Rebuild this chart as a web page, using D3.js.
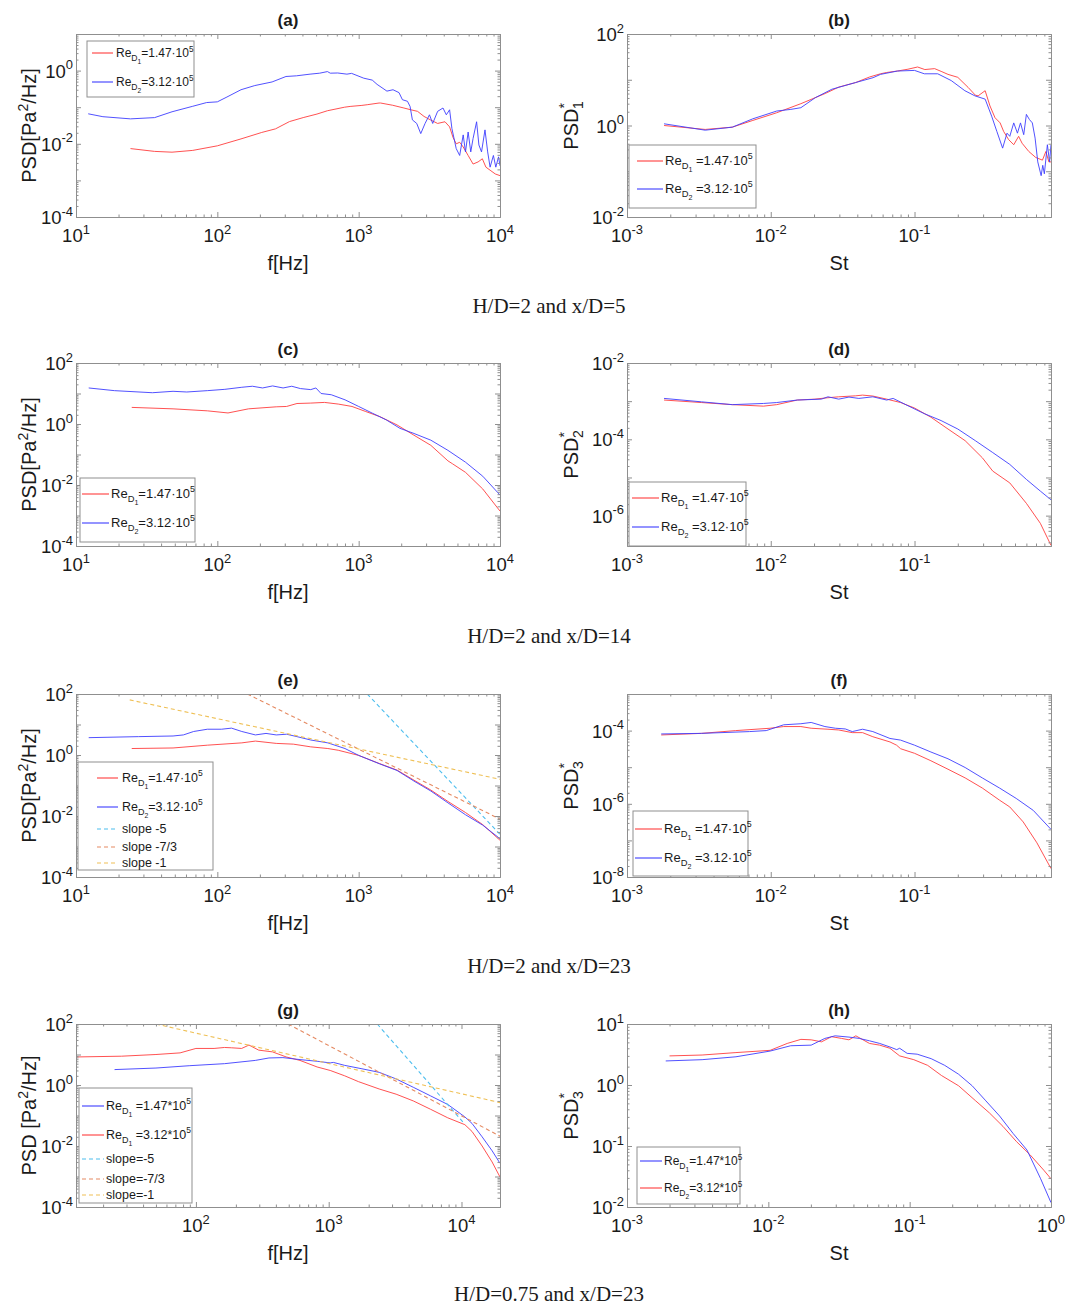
<!DOCTYPE html>
<html>
<head>
<meta charset="utf-8">
<script src="https://cdn.jsdelivr.net/npm/d3@7"></script>
<style>
body { margin: 0; background: #fff; }
svg text { font-family: "Liberation Sans", Arial, Helvetica, sans-serif; fill: #1a1a1a; }
</style>
</head>
<body>
<svg id="fig" width="1067" height="1308"></svg>
<script>
// ---------------- data ----------------
// [frequency Hz or Strouhal, PSD]
var a_red = [[24.3,0.0074],[36,0.0062],[47.8,0.0059],[67,0.0066],[100,0.0088],[147,0.0136],[206,0.0204],[258,0.0256],[324,0.0405],[405,0.052],[507,0.065],[601,0.08],[795,0.1],[870,0.105],[1054,0.112],[1150,0.117],[1394,0.13],[1430,0.13],[1740,0.113],[2090,0.095],[2340,0.085],[2610,0.077],[2900,0.056],[3220,0.045],[3620,0.036],[4080,0.04],[4400,0.029],[4650,0.015],[4900,0.01],[5185,0.011],[5490,0.0082],[5950,0.0048],[6450,0.0028],[7000,0.0032],[7500,0.0039],[7950,0.0023],[8510,0.0019],[9260,0.0015],[10000,0.00135]];
var a_blue = [[12.2,0.066],[15.5,0.055],[24.3,0.048],[36,0.052],[47.8,0.075],[67,0.106],[84,0.134],[100,0.14],[117,0.19],[147,0.30],[184,0.39],[244,0.49],[306,0.69],[363,0.72],[453,0.80],[530,0.85],[601,0.94],[630,0.85],[711,0.86],[826,0.8],[891,0.84],[1087,0.62],[1248,0.55],[1350,0.42],[1585,0.275],[1750,0.3],[1930,0.25],[2040,0.16],[2215,0.145],[2310,0.105],[2400,0.045],[2575,0.036],[2750,0.019],[2950,0.036],[3170,0.062],[3340,0.036],[3620,0.077],[3950,0.095],[4170,0.062],[4400,0.085],[4570,0.026],[4900,0.0074],[5185,0.0048],[5490,0.0175],[5700,0.006],[5950,0.021],[6210,0.006],[6450,0.014],[6830,0.04],[7090,0.0093],[7400,0.006],[7830,0.024],[8180,0.006],[8510,0.0023],[8980,0.0048],[9340,0.0023],[9770,0.0044],[10000,0.0025]];

var b_red = [[0.00181,1.0],[0.0035,0.82],[0.0054,0.92],[0.0075,1.29],[0.011,1.9],[0.0162,3.0],[0.0239,5.0],[0.0297,6.9],[0.039,8.7],[0.0487,11.5],[0.058,13.5],[0.064,14.4],[0.076,15.5],[0.09,17],[0.105,19],[0.118,16.7],[0.138,17.5],[0.155,15],[0.171,13.1],[0.2,11.3],[0.236,6.8],[0.265,4.6],[0.277,4.45],[0.31,5.76],[0.335,2.67],[0.363,1.48],[0.394,1.14],[0.417,0.74],[0.452,0.49],[0.49,0.38],[0.53,0.58],[0.56,0.41],[0.624,0.27],[0.697,0.2],[0.776,0.175],[0.82,0.27],[0.86,0.16],[0.89,0.16]];
var b_blue = [[0.00181,1.09],[0.0035,0.79],[0.0054,0.92],[0.0075,1.4],[0.011,2.07],[0.0138,2.25],[0.0162,2.45],[0.0204,4.05],[0.0266,6.2],[0.039,8.7],[0.0515,11.1],[0.058,13.1],[0.076,15.5],[0.1,16],[0.117,13.5],[0.145,13.5],[0.18,9.6],[0.224,5.76],[0.263,4.45],[0.31,3.77],[0.344,1.6],[0.374,0.74],[0.41,0.32],[0.44,0.68],[0.46,0.58],[0.49,1.14],[0.52,0.68],[0.546,1.14],[0.575,0.63],[0.6,1.75],[0.63,1.35],[0.66,1.14],[0.69,0.53],[0.72,0.16],[0.76,0.08],[0.78,0.135],[0.8,0.088],[0.84,0.38],[0.87,0.16],[0.89,0.38]];

var c_red = [[24.8,3.5],[48.6,3.14],[85,2.7],[119,2.3],[166,3.14],[261,3.66],[309,3.76],[366,4.7],[458,4.85],[573,5.1],[717,4.5],[897,3.76],[1123,2.56],[1410,1.75],[1870,0.93],[2460,0.43],[3240,0.2],[4280,0.062],[4600,0.05],[5700,0.026],[7550,0.0074],[10000,0.0014]];
var c_blue = [[12.3,15.2],[18.7,12.4],[34.7,10.6],[48.6,11.8],[60.8,11.2],[85,12.4],[113,13.7],[149,16],[177,17.3],[209,15.2],[246,17.7],[292,15.2],[336,17.3],[387,14.5],[458,13.4],[498,15.2],[542,10],[640,9.1],[801,6.2],[1000,3.76],[1250,2.26],[1570,1.36],[1960,0.72],[2460,0.49],[3240,0.295],[4280,0.137],[5700,0.056],[7550,0.0194],[10000,0.0047]];

var d_red = [[0.00181,1.07e-3],[0.0033,9.2e-4],[0.0054,8.1e-4],[0.0089,7.4e-4],[0.011,8.1e-4],[0.0153,1.07e-3],[0.0203,1.13e-3],[0.025,1.23e-3],[0.0297,1.3e-3],[0.039,1.38e-3],[0.0435,1.44e-3],[0.0513,1.36e-3],[0.064,1.13e-3],[0.08,9.2e-4],[0.1,6.6e-4],[0.13,3.8e-4],[0.171,1.86e-4],[0.225,9.2e-5],[0.296,3.3e-5],[0.35,1.47e-5],[0.46,7.2e-6],[0.6,2.1e-6],[0.75,6.3e-7],[0.89,1.66e-7]];
var d_blue = [[0.00181,1.18e-3],[0.0033,9.6e-4],[0.0054,8.1e-4],[0.0089,8.7e-4],[0.011,9.2e-4],[0.0153,1.07e-3],[0.0225,1.13e-3],[0.025,1.3e-3],[0.0297,1.13e-3],[0.035,1.28e-3],[0.041,1.18e-3],[0.0513,1.3e-3],[0.064,1.07e-3],[0.071,1.18e-3],[0.0887,7.8e-4],[0.117,4.7e-4],[0.153,3.1e-4],[0.2,1.86e-4],[0.265,9.2e-5],[0.35,4.5e-5],[0.46,2.2e-5],[0.6,8.9e-6],[0.75,4.4e-6],[0.89,2.6e-6]];

var e_red = [[24.8,1.63],[48.6,1.7],[85,2.1],[149,2.5],[186,2.86],[261,2.4],[345,2.27],[458,1.85],[605,1.63],[717,1.43],[800,1.26],[1000,0.97],[1410,0.52],[1870,0.32],[2460,0.15],[3240,0.071],[4280,0.03],[5700,0.013],[7550,0.0052],[10000,0.0016]];
var e_blue = [[12.3,3.7],[27.7,4.0],[48.6,4.2],[57.5,4.55],[68,5.9],[85,7.0],[107,7.0],[126,7.6],[149,5.9],[186,4.55],[221,5.1],[261,4.55],[309,4.8],[366,4.0],[458,3.1],[605,2.5],[800,1.63],[1000,0.97],[1410,0.51],[1870,0.31],[2460,0.14],[3240,0.066],[4280,0.027],[5700,0.011],[7550,0.005],[10000,0.0018]];
var e_slope5 = [[1150,100],[10000,0.0025]];
var e_slope73 = [[163,100],[10000,0.0079]];
var e_slope1 = [[24,64],[10000,0.16]];

var f_red = [[0.00173,7.6e-5],[0.0033,8.4e-5],[0.0057,1e-4],[0.0099,1.16e-4],[0.0123,1.29e-4],[0.0162,1.29e-4],[0.0191,1.16e-4],[0.025,1.09e-4],[0.0297,1.04e-4],[0.0369,8.8e-5],[0.0435,8.8e-5],[0.0513,6.8e-5],[0.0675,4.9e-5],[0.075,4.0e-5],[0.08,3.2e-5],[0.1,2.4e-5],[0.13,1.5e-5],[0.171,8.8e-6],[0.225,5.1e-6],[0.296,2.7e-6],[0.39,1.26e-6],[0.46,8.2e-7],[0.57,3.2e-7],[0.71,8.6e-8],[0.89,1.7e-8]];
var f_blue = [[0.00173,8.1e-5],[0.0033,8.4e-5],[0.0071,9.4e-5],[0.0093,1e-4],[0.0123,1.44e-4],[0.0162,1.54e-4],[0.0191,1.67e-4],[0.0238,1.29e-4],[0.0282,1.16e-4],[0.033,1.11e-4],[0.0369,9.4e-5],[0.0435,1.09e-4],[0.0513,9.4e-5],[0.0675,6.1e-5],[0.08,5.5e-5],[0.1,4.0e-5],[0.13,2.6e-5],[0.171,1.7e-5],[0.225,9.8e-6],[0.296,5.1e-6],[0.39,2.7e-6],[0.51,1.4e-6],[0.67,6.6e-7],[0.89,2.0e-7]];

var g_red = [[12.5,8.3],[27.5,8.8],[50,10],[76,11.3],[100,15.8],[137,15.8],[164,17],[185,16.6],[221,15.8],[251,20.4],[297,13.9],[377,12.2],[479,8.3],[608,6.4],[818,3.9],[1026,3.0],[1320,2.0],[1675,1.29],[2400,0.74],[3220,0.5],[4340,0.3],[5850,0.16],[7880,0.084],[10600,0.05],[12000,0.03],[14300,0.01],[17000,0.003],[19500,0.00096]];
var g_blue = [[24.4,3.2],[50,3.6],[90,4.3],[164,5.0],[280,6.4],[355,7.7],[452,7.9],[608,6.8],[818,6.0],[1026,5.3],[1085,5.5],[1320,4.4],[1780,3.4],[2400,2.6],[3220,1.58],[4340,0.84],[5850,0.44],[7880,0.23],[10600,0.09],[12000,0.055],[14300,0.02],[17000,0.007],[19500,0.0027]];
var g_slope5 = [[2320,100],[10300,0.06]];
var g_slope73 = [[494,100],[19500,0.021]];
var g_slope1 = [[50,100],[19500,0.265]];

var h_blue = [[0.00188,2.48],[0.0034,2.6],[0.0059,2.9],[0.0103,3.6],[0.0144,4.4],[0.0201,4.5],[0.0251,5.8],[0.0297,6.4],[0.0372,6.1],[0.044,5.8],[0.052,5.3],[0.0614,4.8],[0.0725,4.2],[0.081,3.8],[0.085,4.0],[0.096,3.3],[0.113,3.2],[0.142,2.7],[0.177,2.1],[0.222,1.5],[0.277,0.97],[0.346,0.55],[0.433,0.31],[0.54,0.16],[0.676,0.086],[0.845,0.029],[1.0,0.0118]];
var h_red = [[0.002,3.0],[0.0034,3.1],[0.0059,3.4],[0.0103,3.7],[0.0136,4.8],[0.017,5.6],[0.0201,5.5],[0.0238,5.1],[0.028,6.2],[0.033,5.8],[0.0372,5.5],[0.0416,6.4],[0.052,4.8],[0.0614,4.5],[0.0725,4.0],[0.085,3.0],[0.107,2.6],[0.134,2.1],[0.168,1.43],[0.222,0.97],[0.293,0.55],[0.366,0.35],[0.457,0.21],[0.57,0.118],[0.714,0.071],[0.89,0.04],[1.0,0.029]];

// tick label exponents
var xExpF = [1, 2, 3, 4];
var xExpFg = [2, 3, 4];
var xExpSt = [-3, -2, -1];
var xExpSth = [-3, -2, -1, 0];

// legend texts
var reSub = ["1", "2"];
var reVal = ["1.47\u00b710", "3.12\u00b710"];
var reValStar = ["1.47*10", "3.12*10"];
var slopeE = ["slope -5", "slope -7/3", "slope -1"];
var slopeG = ["slope=-5", "slope=-7/3", "slope=-1"];

var captions = ["H/D=2 and x/D=5", "H/D=2 and x/D=14", "H/D=2 and x/D=23", "H/D=0.75 and x/D=23"];

// ---------------- layout ----------------
var svg = d3.select("#fig"),
    colX = [76, 627],
    rowY = [34, 363, 694, 1024],
    W = 424,
    H = 183,
    axisGray = "#8f8f8f",
    red = "#ff3d3d",
    blue = "#3d3dff",
    cBlue5 = "#4dbeee",
    cOrange = "#e58a62",
    cYellow = "#efc056";

var panels = [
    {title: "(a)", row: 0, col: 0, xDom: [10, 1e4], yDom: [1e-4, 10], xExp: xExpF, yExp: [-4, -2, 0], xLab: "f[Hz]", yLab: "hz",
        series: [{d: a_red, c: red}, {d: a_blue, c: blue}],
        leg: {x: 87, y: 41, w: 107, h: 56, l0: 92, l1: 113, tx: 116, fs: 12, rows: [53, 82],
            items: [{c: red, re: 0}, {c: blue, re: 1}]}},
    {title: "(b)", row: 0, col: 1, xDom: [1e-3, 0.89], yDom: [1e-2, 100], xExp: xExpSt, yExp: [-2, 0, 2], xLab: "St", yLab: "1",
        series: [{d: b_red, c: red}, {d: b_blue, c: blue}],
        leg: {x: 629, y: 145, w: 127, h: 63, l0: 637, l1: 663, tx: 665, fs: 13, sp: true, rows: [161, 189],
            items: [{c: red, re: 0}, {c: blue, re: 1}]}},
    {title: "(c)", row: 1, col: 0, xDom: [10, 1e4], yDom: [1e-4, 100], xExp: xExpF, yExp: [-4, -2, 0, 2], xLab: "f[Hz]", yLab: "hz",
        series: [{d: c_red, c: red}, {d: c_blue, c: blue}],
        leg: {x: 80, y: 478, w: 115, h: 64, l0: 82, l1: 109, tx: 111, fs: 13, rows: [494, 523],
            items: [{c: red, re: 0}, {c: blue, re: 1}]}},
    {title: "(d)", row: 1, col: 1, xDom: [1e-3, 0.89], yDom: [1.6e-7, 1e-2], xExp: xExpSt, yExp: [-6, -4, -2], xLab: "St", yLab: "2",
        series: [{d: d_red, c: red}, {d: d_blue, c: blue}],
        leg: {x: 629, y: 482, w: 117, h: 64, l0: 632, l1: 659, tx: 661, fs: 13, sp: true, rows: [498, 527],
            items: [{c: red, re: 0}, {c: blue, re: 1}]}},
    {title: "(e)", row: 2, col: 0, xDom: [10, 1e4], yDom: [1e-4, 100], xExp: xExpF, yExp: [-4, -2, 0, 2], xLab: "f[Hz]", yLab: "hz",
        series: [{d: e_red, c: red}, {d: e_blue, c: blue},
            {d: e_slope5, c: cBlue5, dash: "4,3"}, {d: e_slope73, c: cOrange, dash: "4,3"}, {d: e_slope1, c: cYellow, dash: "4,3"}],
        leg: {x: 78, y: 762, w: 135, h: 108, l0: 97, l1: 118, tx: 122, fs: 12.5, rows: [778, 807, 829, 847, 863],
            items: [{c: red, re: 0}, {c: blue, re: 1}, {c: cBlue5, t: slopeE[0], dash: "4,3"}, {c: cOrange, t: slopeE[1], dash: "4,3"}, {c: cYellow, t: slopeE[2], dash: "4,3"}]}},
    {title: "(f)", row: 2, col: 1, xDom: [1e-3, 0.89], yDom: [1e-8, 1e-3], xExp: xExpSt, yExp: [-8, -6, -4], xLab: "St", yLab: "3",
        series: [{d: f_red, c: red}, {d: f_blue, c: blue}],
        leg: {x: 633, y: 811, w: 115, h: 65, l0: 635, l1: 662, tx: 664, fs: 13, sp: true, rows: [829, 858],
            items: [{c: red, re: 0}, {c: blue, re: 1}]}},
    {title: "(g)", row: 3, col: 0, xDom: [12.5, 19500], yDom: [1e-4, 100], xExp: xExpFg, yExp: [-4, -2, 0, 2], xLab: "f[Hz]", yLab: "hzs",
        series: [{d: g_red, c: red}, {d: g_blue, c: blue},
            {d: g_slope5, c: cBlue5, dash: "4,3"}, {d: g_slope73, c: cOrange, dash: "4,3"}, {d: g_slope1, c: cYellow, dash: "4,3"}],
        leg: {x: 79, y: 1088, w: 113, h: 115, l0: 82, l1: 104, tx: 106, fs: 12.5, sp: true, rows: [1106, 1135, 1159, 1179, 1195],
            items: [{c: blue, re: 0, star: true, sub: "1"}, {c: red, re: 1, star: true, sub: "1"},
                {c: cBlue5, t: slopeG[0], dash: "4,3"}, {c: cOrange, t: slopeG[1], dash: "4,3"}, {c: cYellow, t: slopeG[2], dash: "4,3"}]}},
    {title: "(h)", row: 3, col: 1, xDom: [1e-3, 1], yDom: [1e-2, 10], xExp: xExpSth, yExp: [-2, -1, 0, 1], xLab: "St", yLab: "3",
        series: [{d: h_red, c: red}, {d: h_blue, c: blue}],
        leg: {x: 637, y: 1147, w: 103, h: 57, l0: 640, l1: 662, tx: 664, fs: 12, rows: [1161, 1188],
            items: [{c: blue, re: 0, star: true}, {c: red, re: 1, star: true}]}}
];

// ---------------- helpers ----------------
function decadeTicks(dom) {
    var maj = [], min = [];
    var lo = Math.floor(Math.log10(dom[0])), hi = Math.ceil(Math.log10(dom[1]));
    for (var k = lo; k <= hi; k++) {
        for (var m = 1; m < 10; m++) {
            var v = m * Math.pow(10, k);
            if (v < dom[0] * 0.999 || v > dom[1] * 1.001) continue;
            (m === 1 ? maj : min).push(v);
        }
    }
    return {maj: maj, min: min};
}

function powLabel(t, e, fs) {
    t.append("tspan").text("10");
    t.append("tspan").attr("font-size", fs * 0.7).attr("dy", -fs * 0.45).text(e);
}

function styleAxis(sel) {
    sel.selectAll("path, line").attr("stroke", axisGray).attr("stroke-width", 1);
}

function reLabel(t, it, fs, sp) {
    t.append("tspan").text("Re");
    t.append("tspan").attr("font-size", fs * 0.72).attr("dy", fs * 0.3).text("D");
    t.append("tspan").attr("font-size", fs * 0.55).attr("dy", fs * 0.25).text(it.sub || reSub[it.re]);
    t.append("tspan").attr("dy", -fs * 0.55).text((sp ? " =" : "=") + (it.star ? reValStar : reVal)[it.re]);
    t.append("tspan").attr("font-size", fs * 0.68).attr("dy", -fs * 0.45).text("5");
}

function drawPanel(p, i) {
    var ox = colX[p.col], oy = rowY[p.row];
    var g = svg.append("g").attr("transform", "translate(" + ox + "," + oy + ")");
    var x = d3.scaleLog().domain(p.xDom).range([0, W]);
    var y = d3.scaleLog().domain(p.yDom).range([H, 0]);
    var xt = decadeTicks(p.xDom), yt = decadeTicks(p.yDom);

    // clip
    svg.append("clipPath").attr("id", "clip" + i)
        .append("rect").attr("width", W).attr("height", H);

    var line = d3.line()
        .x(function (d) { return x(d[0]); })
        .y(function (d) { return y(d[1]); });

    var plot = g.append("g").attr("clip-path", "url(#clip" + i + ")");
    p.series.forEach(function (s) {
        plot.append("path")
            .datum(s.d)
            .attr("d", line)
            .attr("fill", "none")
            .attr("stroke", s.c)
            .attr("stroke-width", s.dash ? 1.1 : 0.9)
            .attr("stroke-dasharray", s.dash || null)
            .attr("stroke-linejoin", "round");
    });

    // axes: ticks inside on all four sides
    var axes = [
        [d3.axisBottom(x), "translate(0," + H + ")", xt],
        [d3.axisTop(x), null, xt],
        [d3.axisLeft(y), null, yt],
        [d3.axisRight(y), "translate(" + W + ",0)", yt]
    ];
    axes.forEach(function (a) {
        var maj = g.append("g").attr("transform", a[1]);
        maj.call(a[0].tickValues(a[2].maj).tickSizeInner(-5).tickSizeOuter(0).tickFormat(""));
        styleAxis(maj);
        var mn = g.append("g").attr("transform", a[1]);
        mn.call(a[0].tickValues(a[2].min).tickSizeInner(-2.5).tickSizeOuter(0).tickFormat(""));
        styleAxis(mn);
    });

    // tick labels
    var fs = 18.5;
    p.xExp.forEach(function (e) {
        var t = g.append("text").attr("x", x(Math.pow(10, e))).attr("y", H + 25)
            .attr("text-anchor", "middle").attr("font-size", fs);
        powLabel(t, e, fs);
    });
    p.yExp.forEach(function (e) {
        var t = g.append("text").attr("x", -3).attr("y", y(Math.pow(10, e)) + 7)
            .attr("text-anchor", "end").attr("font-size", fs);
        powLabel(t, e, fs);
    });

    // title
    g.append("text").attr("x", W / 2).attr("y", -8).attr("text-anchor", "middle")
        .attr("font-size", 17).attr("font-weight", "bold").text(p.title);

    // x label
    g.append("text").attr("x", W / 2).attr("y", H + 53).attr("text-anchor", "middle")
        .attr("font-size", 20).text(p.xLab);

    // y label
    var isHz = p.yLab === "hz" || p.yLab === "hzs";
    var yl = g.append("text").attr("transform", "translate(" + (isHz ? -40 : -49) + "," + (H / 2) + ") rotate(-90)")
        .attr("text-anchor", "middle").attr("font-size", 20);
    if (isHz) {
        yl.append("tspan").text(p.yLab === "hzs" ? "PSD [Pa" : "PSD[Pa");
        yl.append("tspan").attr("font-size", 14).attr("dy", -8).text("2");
        yl.append("tspan").attr("dy", 8).text("/Hz]");
    } else {
        yl.append("tspan").text("PSD");
        yl.append("tspan").attr("font-size", 14).attr("dy", -9).text("*");
        yl.append("tspan").attr("font-size", 14).attr("dx", -6).attr("dy", 14).text(p.yLab);
    }

    // legend
    var L = p.leg;
    svg.append("rect").attr("x", L.x).attr("y", L.y).attr("width", L.w).attr("height", L.h)
        .attr("fill", "#fff").attr("stroke", axisGray).attr("stroke-width", 1);
    L.items.forEach(function (it, k) {
        var ry = L.rows[k];
        svg.append("line").attr("x1", L.l0).attr("x2", L.l1).attr("y1", ry).attr("y2", ry)
            .attr("stroke", it.c).attr("stroke-width", 1.1).attr("stroke-dasharray", it.dash || null);
        var t = svg.append("text").attr("x", L.tx).attr("y", ry + 4).attr("font-size", L.fs);
        if (it.t) {
            t.text(it.t);
        } else {
            reLabel(t, it, L.fs, L.sp);
        }
    });
}

panels.forEach(drawPanel);

// row captions
var captionY = [313, 643, 973, 1301];
captions.forEach(function (c, i) {
    svg.append("text").attr("x", 549).attr("y", captionY[i])
        .attr("text-anchor", "middle")
        .style("font-family", "'Liberation Serif', 'Times New Roman', serif")
        .attr("font-size", 21).text(c);
});
</script>
</body>
</html>
